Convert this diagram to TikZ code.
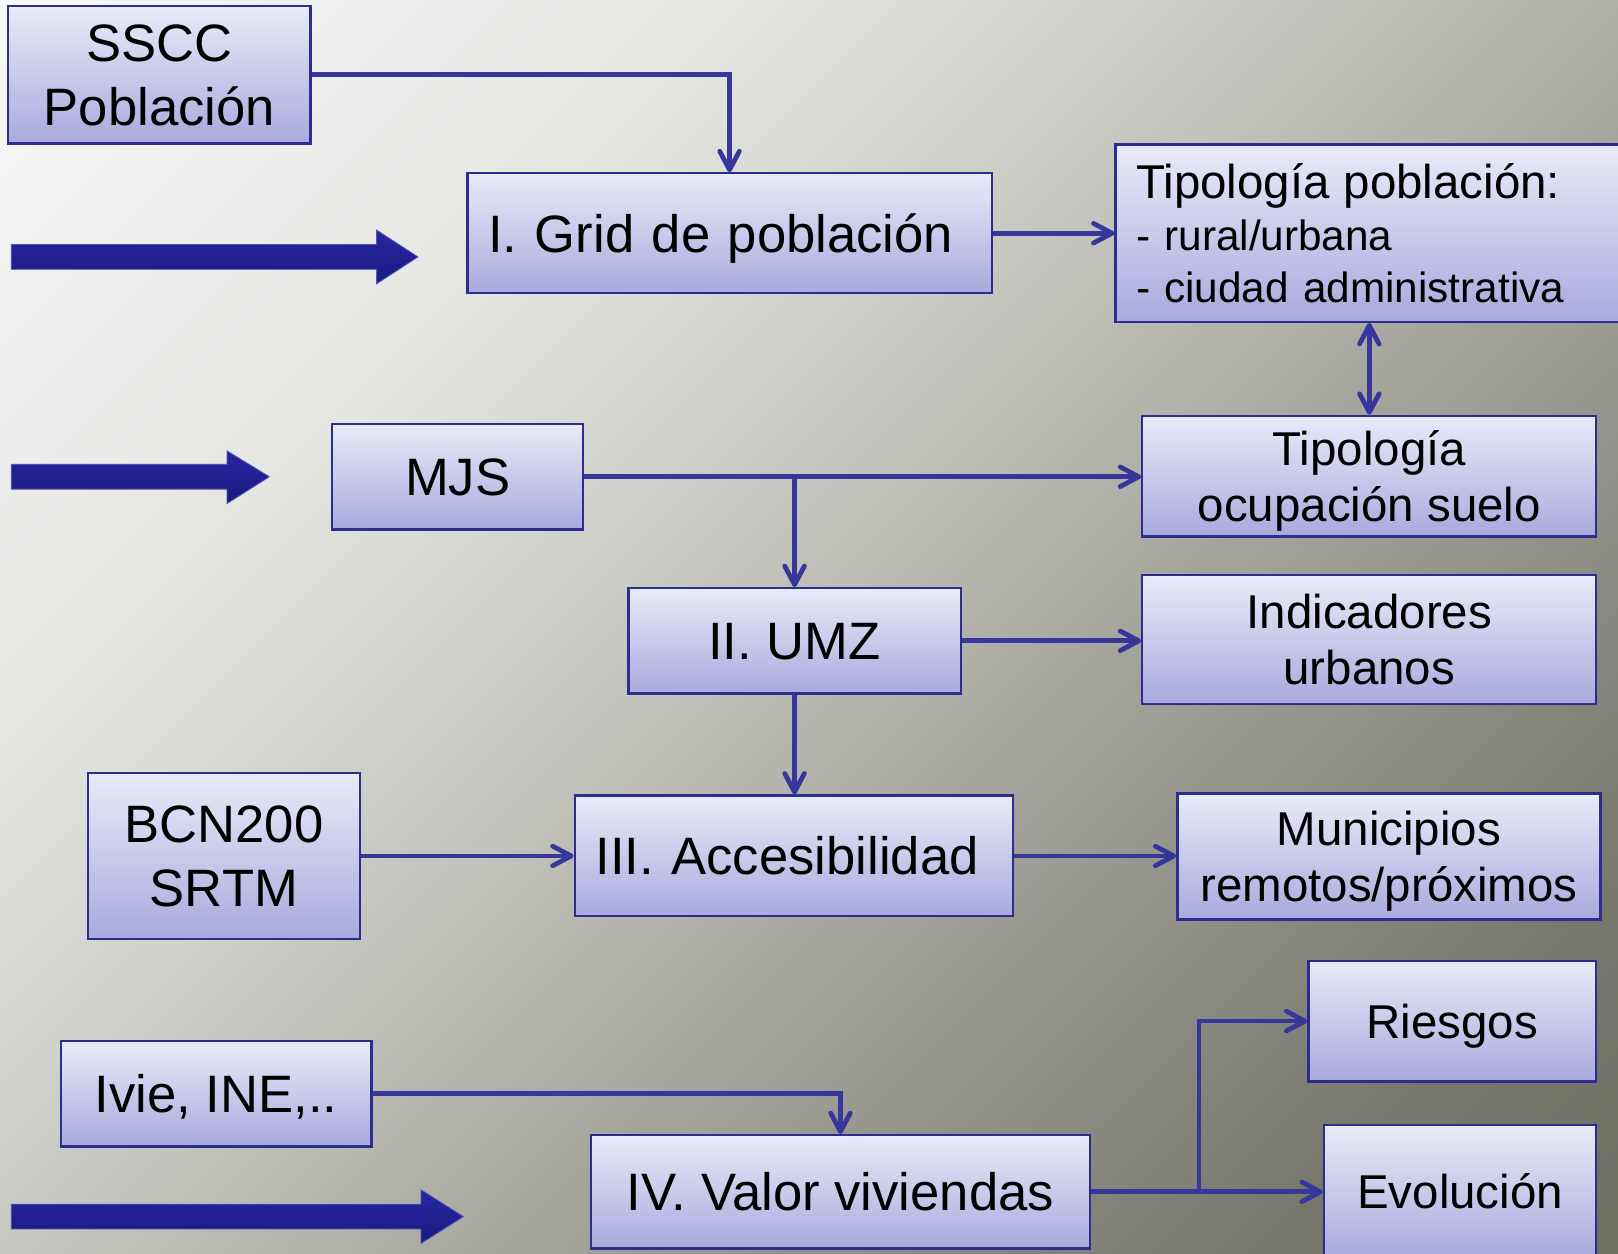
\documentclass[tikz,border=0pt]{standalone}
\usepackage{fontspec}
\setmainfont{Liberation Sans}
\usetikzlibrary{arrows.meta}
\definecolor{bgA}{HTML}{706F64}
\definecolor{bgB}{HTML}{78776D}
\definecolor{bgC}{HTML}{8D8D85}
\definecolor{bgD}{HTML}{A3A39B}
\definecolor{bgE}{HTML}{BCBCB5}
\definecolor{bgF}{HTML}{D3D3CE}
\definecolor{bgG}{HTML}{E6E6E3}
\definecolor{bgH}{HTML}{F8F8F8}
\definecolor{boxtop}{HTML}{EAEAF9}
\definecolor{boxbot}{HTML}{A9A9DD}
\definecolor{boxline}{HTML}{2D2D8F}
\definecolor{linec}{HTML}{36369B}
\definecolor{arrtop}{HTML}{2626A2}
\definecolor{arrbot}{HTML}{1A1A80}
\pgfdeclareverticalshading{bgshade}{100bp}{%
  color(0bp)=(bgA); color(14.6bp)=(bgA); color(23.4bp)=(bgB); color(32.3bp)=(bgC);
  color(41.1bp)=(bgD); color(50bp)=(bgE); color(58.8bp)=(bgF); color(67.7bp)=(bgG);
  color(85.4bp)=(bgH); color(100bp)=(bgH)}
\newcommand\fbig{\fontsize{25.5}{31}\selectfont}
\newcommand\fmed{\fontsize{23}{27}\selectfont}
\newcommand\fsml{\fontsize{20.5}{25}\selectfont}
\newcommand\capA{\rule{0pt}{23.3pt}}
\newcommand\capB{\rule{0pt}{21.5pt}}
\newcommand\dep{\rule[-5pt]{0pt}{5pt}}
\tikzset{
  box/.style={draw=boxline, line width=1.1pt, top color=boxtop, bottom color=boxbot,
    align=center, inner sep=0pt},
  bigone/.style={box, font=\fbig, text height=18.3pt, text depth=0pt},
  bigtwo/.style={box, font=\fbig},
  medone/.style={box, font=\fmed, text height=16.5pt, text depth=0pt},
  medtwo/.style={box, font=\fmed},
  conn/.style={draw=linec, line width=2.3pt, ->,
    >={Straight Barb[length=9pt,width=9.5pt,round]}},
  blockarrow/.style={top color=arrtop, bottom color=arrbot, draw=arrtop!80!white, line width=0.4pt}
}
\begin{document}
\begin{tikzpicture}[x=0.5pt,y=-0.5pt]
\clip (0,0) rectangle (1568,1215);
\shade[shading=bgshade, shading angle=45] (0,0) rectangle (1568,1215);

% block arrows
\shade[blockarrow] (11,237) -- (365,237) -- (365,223) -- (405,249) -- (365,275) -- (365,261) -- (11,261) -- cycle;
\shade[blockarrow] (11,450) -- (220,450) -- (220,437) -- (261,462) -- (220,488) -- (220,474) -- (11,474) -- cycle;
\shade[blockarrow] (11,1167) -- (408,1167) -- (408,1153) -- (449,1179) -- (408,1205) -- (408,1191) -- (11,1191) -- cycle;

% boxes
\node[bigtwo, minimum width=146.5pt, minimum height=66.5pt] (sscc) at (154.5,72.5) {\capA SSCC\\Población\dep};
\node[bigone, text width=234pt, inner xsep=10pt, align=left, minimum height=58pt] (grid) at (707,226) {I. Grid de población};
\node[box, font=\fsml, text width=235pt, inner xsep=10pt, align=left, minimum height=86pt, anchor=west] (tpob) at (1080,226)
  {{\fontsize{23}{25}\selectfont Tipología población:}\\- rural/urbana\\- ciudad administrativa};
\node[bigone, minimum width=121.5pt, minimum height=51pt] (mjs) at (443.5,462) {MJS};
\node[medtwo, minimum width=220pt, minimum height=58.5pt] (tocup) at (1327,461.5) {\capB Tipología\\ocupación suelo\dep};
\node[bigone, minimum width=161pt, minimum height=51pt] (umz) at (770,621) {II. UMZ};
\node[medtwo, minimum width=220pt, minimum height=62.5pt] (ind) at (1327,619.5) {\capB Indicadores\\urbanos\dep};
\node[bigtwo, minimum width=132pt, minimum height=80.5pt] (bcn) at (217,829.5) {\capA BCN200\\SRTM\dep};
\node[bigone, text width=192.5pt, inner xsep=10pt, align=left, minimum height=58.5pt] (acc) at (769.5,829.5) {III. Accesibilidad};
\node[medtwo, minimum width=205pt, minimum height=61pt] (mun) at (1346,830) {\capB Municipios\\remotos/próximos\dep};
\node[bigone, minimum width=150.5pt, minimum height=51pt] (ivie) at (209.5,1060) {Ivie, INE,..};
\node[bigone, minimum width=241.5pt, minimum height=55pt] (val) at (814.5,1155) {IV. Valor viviendas};
\node[medone, minimum width=139.5pt, minimum height=58.5pt] (rie) at (1407.5,989.5) {Riesgos};
\node[medone, minimum width=132pt, minimum height=65pt] (evo) at (1415,1155) {Evolución};

% connectors
\draw[conn] (sscc.east) -| (grid.north);
\draw[conn] (grid.east) -- (grid.east -| tpob.west);
\draw[conn, <->] (tocup.north |- tpob.south) -- (tocup.north);
\draw[conn] (mjs.east) -- (mjs.east -| tocup.west);
\draw[conn] (mjs.east -| umz.north) -- (umz.north);
\draw[conn] (umz.east) -- (umz.east -| ind.west);
\draw[conn] (umz.south) -- (umz.south |- acc.north);
\draw[conn] (bcn.east) -- (bcn.east -| acc.west);
\draw[conn] (acc.east) -- (acc.east -| mun.west);
\draw[conn] (ivie.east) -| (val.north);
\draw[conn] (val.east) -- (val.east -| evo.west);
\coordinate (vb) at (1162,1155);
\draw[conn] (vb) |- (rie.west);
\end{tikzpicture}
\end{document}
